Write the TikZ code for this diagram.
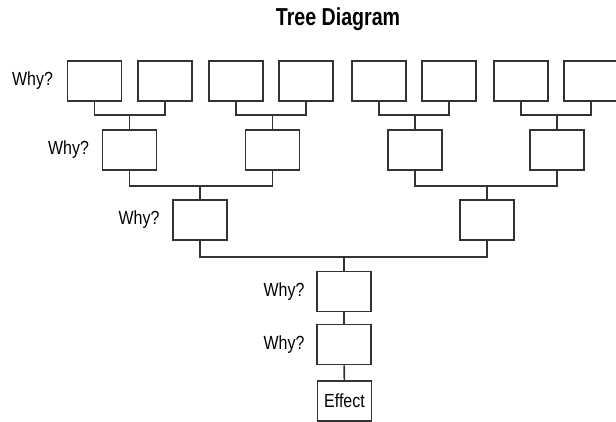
\documentclass[tikz,border=0pt]{standalone}
\usepackage{fontspec}
\usepackage{tikz}
\usetikzlibrary{positioning}
\newfontfamily\condfont[FakeStretch=0.84]{Liberation Sans}
\newfontfamily\titlefont[FakeStretch=0.8]{Liberation Sans}

\begin{document}
\begin{tikzpicture}[x=1pt,y=-1pt,line width=1.6pt,
    whybox/.style={draw=black!80,minimum width=54pt,minimum height=40pt,inner sep=0pt,
      font=\condfont\fontsize{19}{21}\selectfont},
    whylbl/.style={inner sep=0pt,font=\condfont\fontsize{19}{21}\selectfont},
    link/.style={draw=black!80,line width=1.6pt}]
    \useasboundingbox (0,0) rectangle (616,422);
    \node[font=\titlefont\bfseries\fontsize{24.5}{27}\selectfont,anchor=base] (title) at (338,26) {Tree Diagram};
    %% top row
    \node[whybox] (a1) at (94.5,81) {};
    \node[whybox] (a2) at (165,81) {};
    \node[whybox] (a3) at (236,81) {};
    \node[whybox] (a4) at (306,81) {};
    \node[whybox] (a5) at (379,81) {};
    \node[whybox] (a6) at (449,81) {};
    \node[whybox] (a7) at (521,81) {};
    \node[whybox] (a8) at (591,81) {};
    %% second row
    \node[whybox] (b1) at (129.5,150) {};
    \node[whybox] (b2) at (272.5,150) {};
    \node[whybox] (b3) at (415,150) {};
    \node[whybox] (b4) at (557,150) {};
    %% third row
    \node[whybox] (c1) at (200,220) {};
    \node[whybox] (c2) at (487,220) {};
    %% trunk
    \node[whybox] (d1) at (344,291.5) {};
    \node[whybox] (d2) at (344,344.5) {};
    \node[whybox] (eff) at (344.5,401) {Effect};
    %% labels
    \node[whylbl,left=13pt of a1] (wa) {Why?};
    \node[whylbl,left=12pt of b1] (wb) {Why?};
    \node[whylbl,left=12pt of c1] (wc) {Why?};
    \node[whylbl,left=11pt of d1] (wd) {Why?};
    \node[whylbl,left=11pt of d2] (we) {Why?};
    %% junctions
    \coordinate (ja1) at (b1.north |- 0,115);
    \coordinate (ja2) at (b2.north |- 0,115);
    \coordinate (ja3) at (b3.north |- 0,115);
    \coordinate (ja4) at (b4.north |- 0,115);
    \coordinate (jb1) at (c1.north |- 0,186);
    \coordinate (jb2) at (c2.north |- 0,186);
    \coordinate (jc) at (d1.north |- 0,257);
    \draw[link] (a1.south) |- (ja1) -| (a2.south); \draw[link] (ja1) -- (b1.north);
    \draw[link] (a3.south) |- (ja2) -| (a4.south); \draw[link] (ja2) -- (b2.north);
    \draw[link] (a5.south) |- (ja3) -| (a6.south); \draw[link] (ja3) -- (b3.north);
    \draw[link] (a7.south) |- (ja4) -| (a8.south); \draw[link] (ja4) -- (b4.north);
    \draw[link] (b1.south) |- (jb1) -| (b2.south); \draw[link] (jb1) -- (c1.north);
    \draw[link] (b3.south) |- (jb2) -| (b4.south); \draw[link] (jb2) -- (c2.north);
    \draw[link] (c1.south) |- (jc) -| (c2.south); \draw[link] (jc) -- (d1.north);
    \draw[link] (d1) -- (d2);
    \draw[link] (d2) -- (eff);
\end{tikzpicture}
\end{document}
